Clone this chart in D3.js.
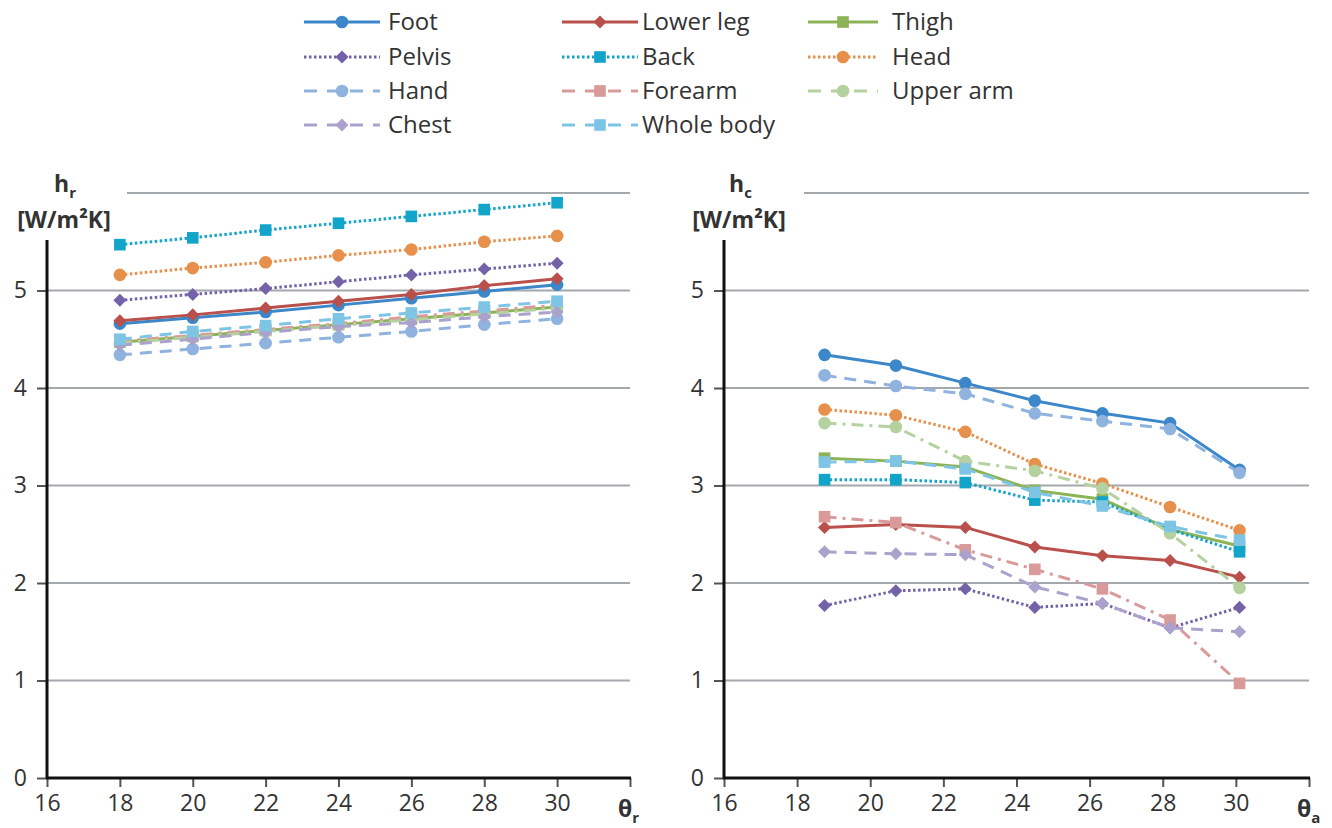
<!DOCTYPE html>
<html>
<head>
<meta charset="utf-8">
<script src="https://cdn.jsdelivr.net/npm/d3@7"></script>
<style>
body { margin: 0; background: #fff; }
text { font-family: "Open Sans", sans-serif; fill: #333; }
</style>
</head>
<body>
<div id="chart"></div>
<script>
// body parts, in legend order (also drawing order)
var parts = ["Foot", "Lower leg", "Thigh", "Pelvis", "Back", "Head",
             "Hand", "Forearm", "Upper arm", "Chest", "Whole body"];

// x values: radiant temperature (left) and air temperature (right)
var thetaR = [18, 20, 22, 24, 26, 28, 30];
var thetaA = [18.75, 20.7, 22.6, 24.5, 26.35, 28.2, 30.1];

// h_r [W/m2K], one row per body part
var hrValues = [
  [4.66, 4.72, 4.78, 4.85, 4.92, 4.99, 5.06],
  [4.69, 4.75, 4.82, 4.89, 4.96, 5.05, 5.12],
  [4.47, 4.53, 4.59, 4.65, 4.71, 4.77, 4.83],
  [4.90, 4.96, 5.02, 5.09, 5.16, 5.22, 5.28],
  [5.47, 5.54, 5.62, 5.69, 5.76, 5.83, 5.90],
  [5.16, 5.23, 5.29, 5.36, 5.42, 5.50, 5.56],
  [4.34, 4.40, 4.46, 4.52, 4.58, 4.65, 4.71],
  [4.48, 4.54, 4.60, 4.66, 4.73, 4.79, 4.85],
  [4.46, 4.52, 4.58, 4.64, 4.70, 4.76, 4.82],
  [4.44, 4.50, 4.57, 4.63, 4.67, 4.73, 4.78],
  [4.50, 4.58, 4.64, 4.71, 4.77, 4.83, 4.89]
];

// h_c [W/m2K], one row per body part
var hcValues = [
  [4.34, 4.23, 4.05, 3.87, 3.74, 3.64, 3.16],
  [2.57, 2.60, 2.57, 2.37, 2.28, 2.23, 2.06],
  [3.28, 3.25, 3.19, 2.95, 2.86, 2.55, 2.38],
  [1.77, 1.92, 1.94, 1.75, 1.79, 1.54, 1.75],
  [3.06, 3.06, 3.03, 2.85, 2.83, 2.55, 2.32],
  [3.78, 3.72, 3.55, 3.22, 3.02, 2.78, 2.54],
  [4.13, 4.02, 3.94, 3.74, 3.66, 3.58, 3.13],
  [2.68, 2.62, 2.34, 2.14, 1.94, 1.62, 0.97],
  [3.64, 3.60, 3.25, 3.15, 2.97, 2.51, 1.95],
  [2.32, 2.30, 2.29, 1.96, 1.79, 1.54, 1.50],
  [3.24, 3.25, 3.17, 2.93, 2.79, 2.58, 2.44]
];

var xTicks = [16, 18, 20, 22, 24, 26, 28, 30, 32];
var yTicks = [0, 1, 2, 3, 4, 5];
var gridTicks = [1, 2, 3, 4, 5, 6];

// styles per body part
var colors = ["#3b87c9", "#b9504b", "#8cb356", "#7462a8", "#13a4c9", "#e6904c",
              "#8fb2de", "#d99a9a", "#b4d19f", "#aaa1cd", "#7ec5e5"];
var dashes = [null, null, null, "2.5,2.5", "2.5,2.5", "2.5,2.5",
              "12,8", "12,6,3,6", "12,6,3,6", "12,8", "12,8"];
var markers = ["circle", "diamond", "square", "diamond", "square", "circle",
               "circle", "square", "circle", "diamond", "square"];

var W = 1332, H = 828;
var svg = d3.select("#chart").append("svg")
    .attr("width", W)
    .attr("height", H);

function markerPath(type) {
  if (type == "circle") return d3.symbol().type(d3.symbolCircle).size(125)();
  if (type == "square") return d3.symbol().type(d3.symbolSquare).size(135)();
  return d3.symbol().type(d3.symbolSquare).size(85)();
}

function panel(opts) {
  var g = svg.append("g");
  var x = d3.scaleLinear().domain([16, 32]).range([opts.x0, opts.x1]);
  var y = d3.scaleLinear().domain([0, 6]).range([778, 193]);

  // gridlines
  g.selectAll(".grid").data(gridTicks).enter().append("line")
    .attr("x1", function(d) { return d == 6 ? opts.gridStart : opts.x0; })
    .attr("x2", opts.x1)
    .attr("y1", function(d) { return y(d); })
    .attr("y2", function(d) { return y(d); })
    .attr("stroke", "#a3a8ad")
    .attr("stroke-width", 2);

  // y axis
  var ya = g.append("g")
    .attr("transform", "translate(" + opts.x0 + ",0)")
    .call(d3.axisLeft(y).tickValues(yTicks).tickSize(10).tickPadding(10)
      .tickFormat(d3.format("d")));
  ya.select(".domain").remove();
  ya.selectAll(".tick line").attr("stroke", "#555").attr("stroke-width", 2);
  ya.selectAll(".tick text").style("font-size", "23px").attr("fill", "#333")
    .style("font-family", "Open Sans, sans-serif");
  g.append("line")
    .attr("x1", opts.x0).attr("x2", opts.x0)
    .attr("y1", 240).attr("y2", 779)
    .attr("stroke", "#111").attr("stroke-width", 3);

  // x axis
  var xa = g.append("g")
    .attr("transform", "translate(0,778)")
    .call(d3.axisBottom(x).tickValues(xTicks).tickSize(9).tickPadding(8)
      .tickFormat(function(d) { return d == 32 ? "" : d; }));
  xa.select(".domain").remove();
  xa.selectAll(".tick line").attr("stroke", "#555").attr("stroke-width", 2);
  xa.selectAll(".tick text").style("font-size", "23px").attr("fill", "#333")
    .style("font-family", "Open Sans, sans-serif");
  g.append("line")
    .attr("x1", opts.x0 - 1).attr("x2", opts.x1 + 1)
    .attr("y1", 778).attr("y2", 778)
    .attr("stroke", "#111").attr("stroke-width", 3);

  // axis titles
  var xt = g.append("text")
    .attr("x", x(32) - 12).attr("y", 817)
    .style("font-size", "23px").style("font-weight", "bold");
  xt.append("tspan").text("θ");
  xt.append("tspan").attr("dy", 6).style("font-size", "15px").text(opts.xSub);

  var yt = g.append("text")
    .attr("x", opts.labelX - 10).attr("y", 192)
    .style("font-size", "23px").style("font-weight", "bold");
  yt.append("tspan").text("h");
  yt.append("tspan").attr("dy", 6).style("font-size", "15px").text(opts.ySub);
  g.append("text")
    .attr("x", opts.labelX).attr("y", 228)
    .attr("text-anchor", "middle")
    .style("font-size", "23px").style("font-weight", "bold")
    .text("[W/m²K]");

  var line = d3.line()
    .x(function(d) { return x(d[0]); })
    .y(function(d) { return y(d[1]); });

  parts.forEach(function(p, i) {
    var pts = opts.xs.map(function(t, j) { return [t, opts.values[i][j]]; });
    g.append("path")
      .attr("d", line(pts))
      .attr("fill", "none")
      .attr("stroke", colors[i])
      .attr("stroke-width", 3)
      .attr("stroke-dasharray", dashes[i]);
    g.selectAll(".m" + i).data(pts).enter().append("path")
      .attr("d", markerPath(markers[i]))
      .attr("transform", function(d) {
        return "translate(" + x(d[0]) + "," + y(d[1]) + ")" +
          (markers[i] == "diamond" ? " rotate(45)" : "");
      })
      .attr("fill", colors[i]);
  });
}

panel({x0: 47, x1: 630, gridStart: 127, labelX: 64, xSub: "r", ySub: "r", xs: thetaR, values: hrValues});
panel({x0: 724, x1: 1309, gridStart: 804, labelX: 739, xSub: "a", ySub: "c", xs: thetaA, values: hcValues});

// legend
var legCols = [304, 562, 808];
var legText = [388, 642, 892];
var legRows = [22, 57, 91, 125];
var leg = svg.append("g");
parts.forEach(function(p, i) {
  var c = i % 3, r = Math.floor(i / 3);
  var lx = legCols[c], ly = legRows[r];
  var lw = c == 2 ? 70 : 76;
  leg.append("line")
    .attr("x1", lx).attr("x2", lx + lw)
    .attr("y1", ly).attr("y2", ly)
    .attr("stroke", colors[i])
    .attr("stroke-width", 3)
    .attr("stroke-dasharray", dashes[i] ? (dashes[i] == "2.5,2.5" ? "2.5,2.5" : "13,10") : null);
  leg.append("path")
    .attr("d", markerPath(markers[i]))
    .attr("transform", "translate(" + (lx + lw / 2) + "," + ly + ")" +
      (markers[i] == "diamond" ? " rotate(45)" : ""))
    .attr("fill", colors[i]);
  leg.append("text")
    .attr("x", legText[c]).attr("y", ly)
    .attr("dy", "0.35em")
    .style("font-size", "24px")
    .text(p);
});
</script>
</body>
</html>
